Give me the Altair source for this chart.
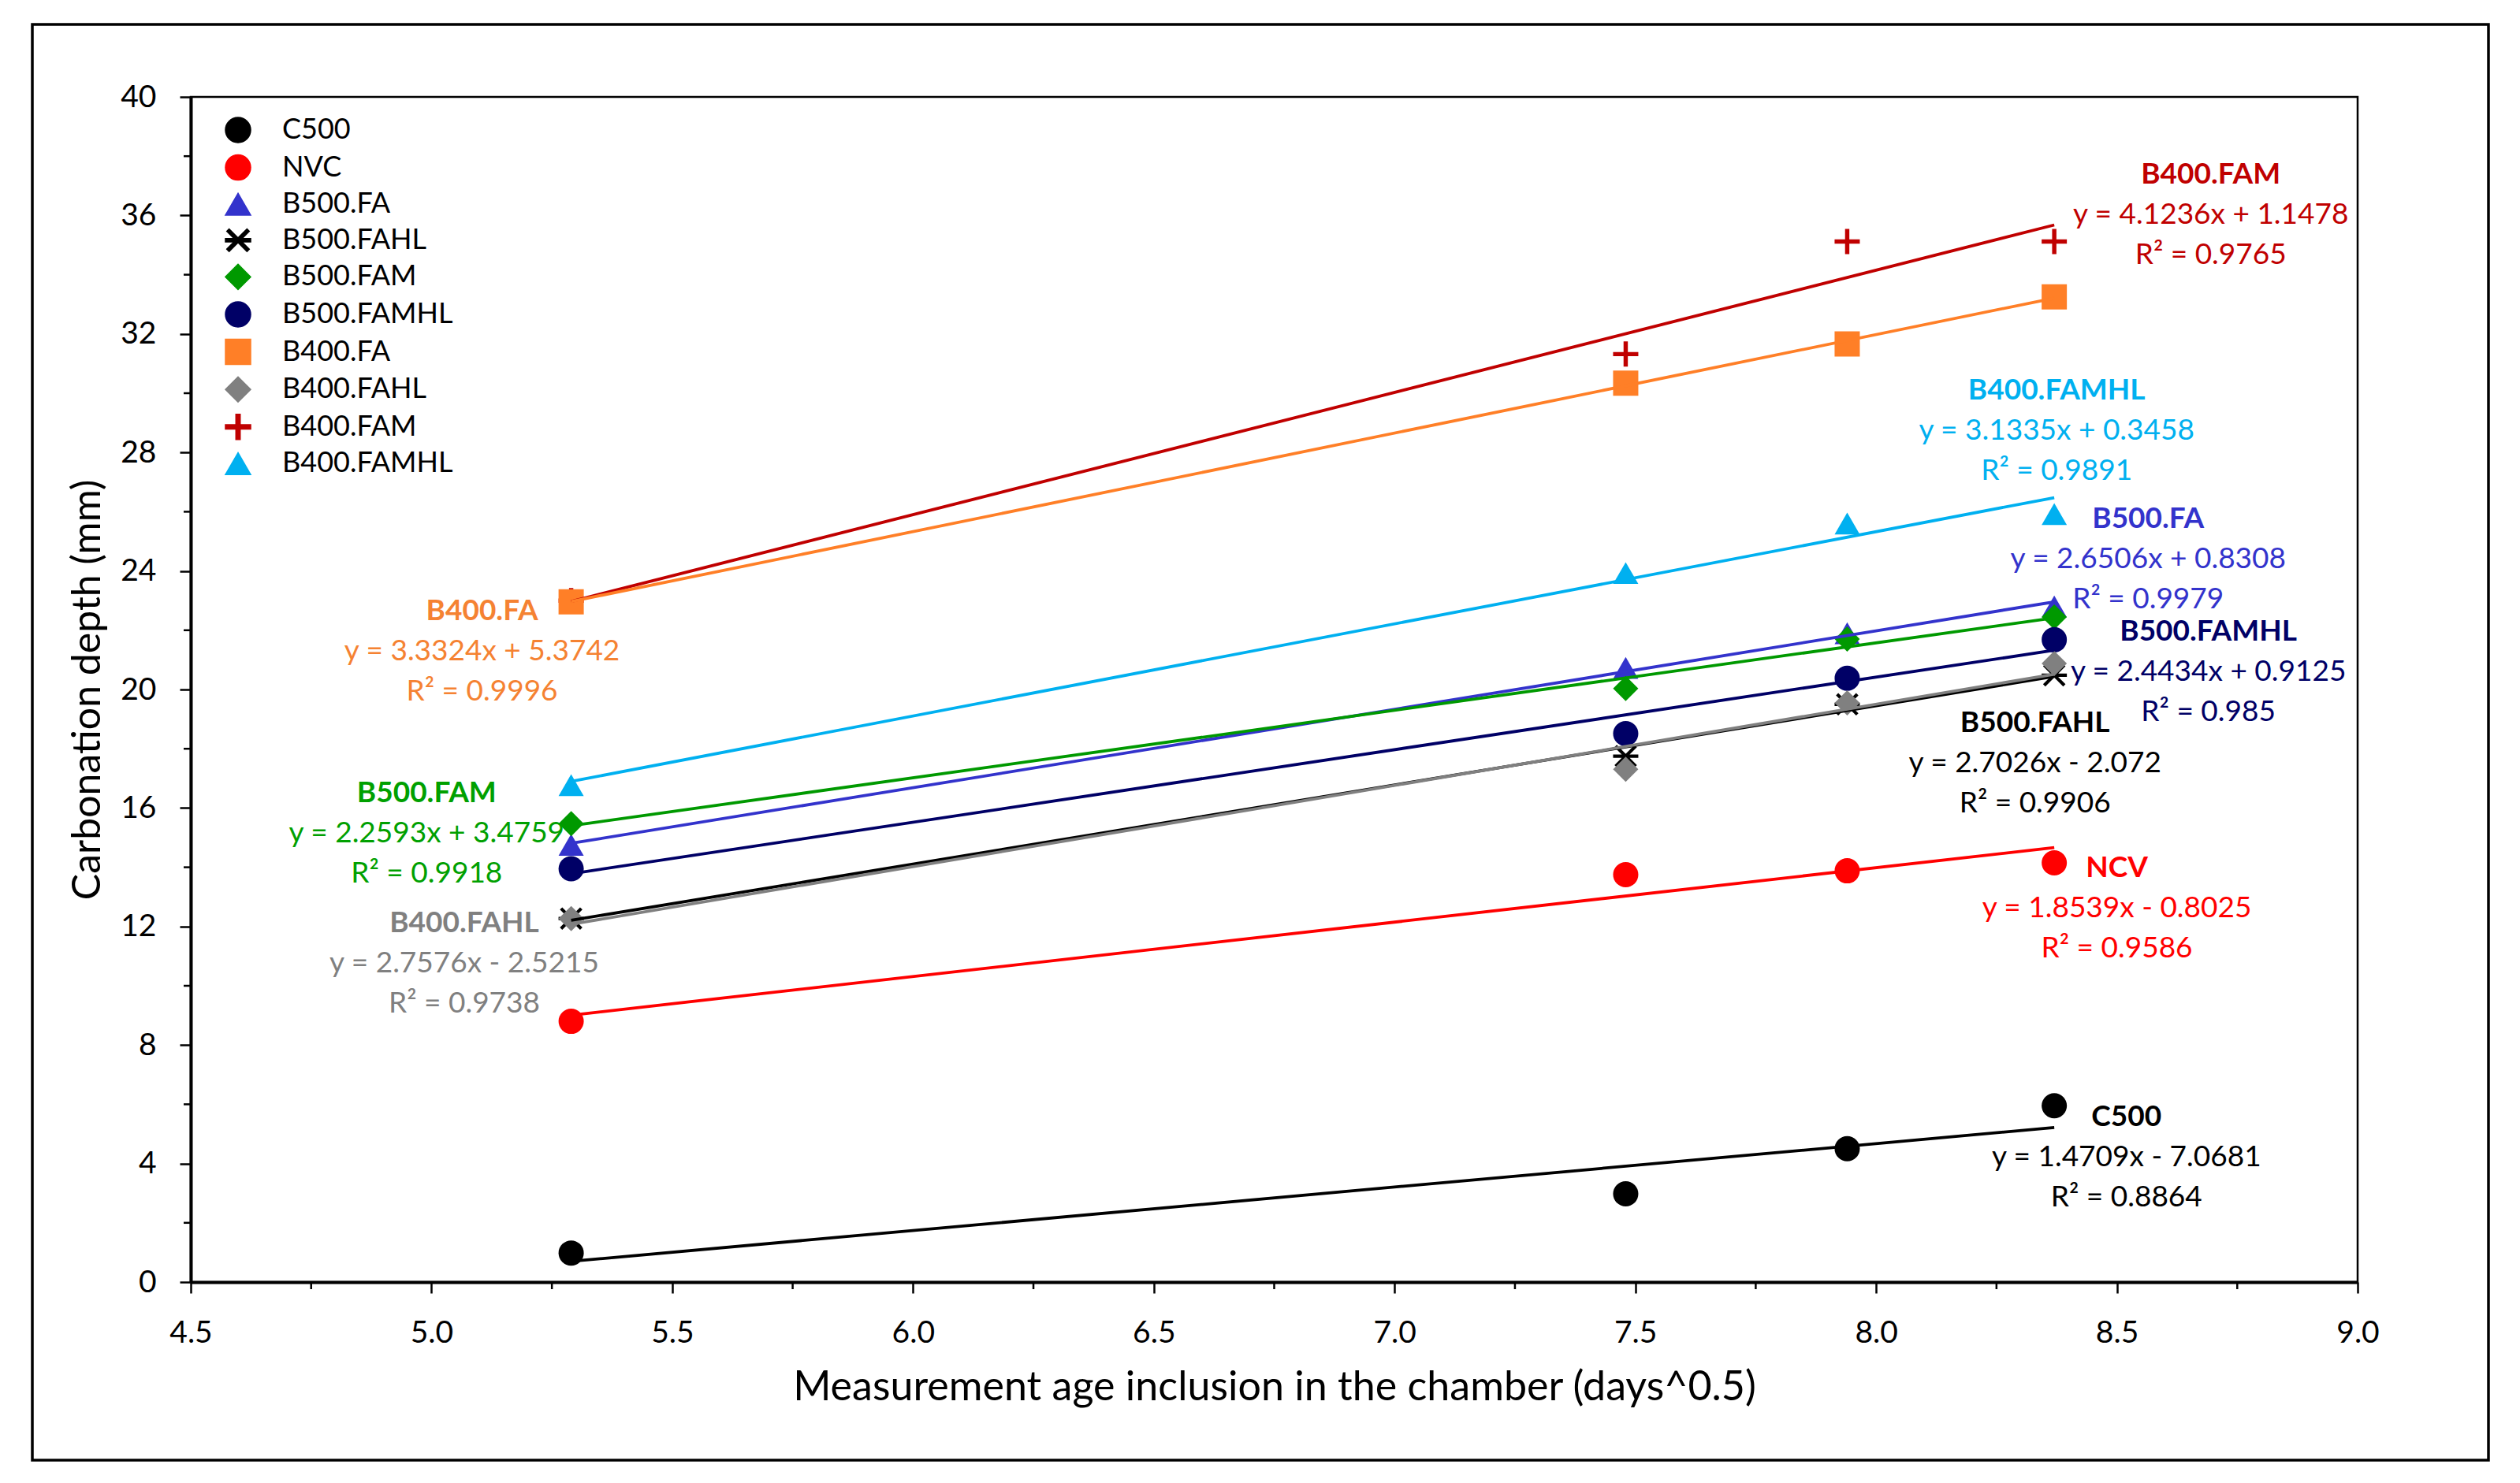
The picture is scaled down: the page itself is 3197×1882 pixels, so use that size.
import altair as alt
import pandas as pd

# ---------------- data ----------------
ages = [5.29, 7.48, 7.94, 8.37]  # sqrt(days)

series_order = ["C500", "NVC", "B500.FA", "B500.FAHL", "B500.FAM", "B500.FAMHL",
                "B400.FA", "B400.FAHL", "B400.FAM", "B400.FAMHL"]

c500 = [0.98, 2.98, 4.50, 5.95]
nvc = [8.80, 13.75, 13.88, 14.15]
b500_fa = [14.76, 20.73, 21.90, 22.80]
b500_fahl = [12.27, 17.75, 19.50, 20.48]
b500_fam = [15.47, 20.03, 21.70, 22.45]
b500_famhl = [13.95, 18.51, 20.38, 21.68]
b400_fa = [22.96, 30.34, 31.66, 33.25]
b400_fahl = [12.27, 17.31, 19.55, 20.88]
b400_fam = [23.00, 31.32, 35.12, 35.12]
b400_famhl = [16.77, 23.93, 25.60, 25.92]

values_by_series = {
    "C500": c500, "NVC": nvc, "B500.FA": b500_fa, "B500.FAHL": b500_fahl,
    "B500.FAM": b500_fam, "B500.FAMHL": b500_famhl, "B400.FA": b400_fa,
    "B400.FAHL": b400_fahl, "B400.FAM": b400_fam, "B400.FAMHL": b400_famhl,
}

# drawing order (the B400.FAM marker at the first age sits under the square)
draw_order = ["C500", "NVC", "B500.FA", "B500.FAHL", "B500.FAM", "B500.FAMHL",
              "B400.FAM", "B400.FA", "B400.FAHL", "B400.FAMHL"]

# trend-line annotations
ann_names = ["B400.FAM", "B400.FAMHL", "B500.FA", "B500.FAMHL", "B500.FAHL",
             "NCV", "C500", "B400.FA", "B500.FAM", "B400.FAHL"]
ann_eqs = ["y = 4.1236x + 1.1478", "y = 3.1335x + 0.3458", "y = 2.6506x + 0.8308",
           "y = 2.4434x + 0.9125", "y = 2.7026x - 2.072", "y = 1.8539x - 0.8025",
           "y = 1.4709x - 7.0681", "y = 3.3324x + 5.3742", "y = 2.2593x + 3.4759",
           "y = 2.7576x - 2.5215"]
ann_r2 = ["R² = 0.9765", "R² = 0.9891", "R² = 0.9979", "R² = 0.985", "R² = 0.9906",
          "R² = 0.9586", "R² = 0.8864", "R² = 0.9996", "R² = 0.9918", "R² = 0.9738"]
ann_x = [8.695, 8.375, 8.565, 8.69, 8.33, 8.50, 8.52, 5.105, 4.99, 5.068]
ann_y = [37.37, 30.08, 25.75, 21.95, 18.85, 13.95, 5.57, 22.63, 16.50, 12.10]

x_ticks = [4.5, 5.0, 5.5, 6.0, 6.5, 7.0, 7.5, 8.0, 8.5, 9.0]
x_minor = [4.75, 5.25, 5.75, 6.25, 6.75, 7.25, 7.75, 8.25, 8.75]
y_ticks = [0, 4, 8, 12, 16, 20, 24, 28, 32, 36, 40]
y_minor = [2, 6, 10, 14, 18, 22, 26, 30, 34, 38]

X_TITLE = "Measurement age inclusion in the chamber (days^0.5)"
Y_TITLE = "Carbonation depth (mm)"

# ---------------- styles ----------------
colors = ["#000000", "#FF0000", "#3333CC", "#000000", "#009900", "#000066",
          "#FF7F27", "#808080", "#C00000", "#00B0F0"]
ann_colors = ["#C00000", "#00B0F0", "#3333CC", "#000066", "#000000",
              "#FF0000", "#000000", "#F58232", "#00A000", "#808080"]

asterisk = ("M-1,-0.13L1,-0.13L1,0.13L-1,0.13Z"
            "M-0.892,-0.708L-0.708,-0.892L0.892,0.708L0.708,0.892Z"
            "M-0.892,0.708L0.708,-0.892L0.892,-0.708L-0.708,0.892Z")
plus = ("M-1,-0.17L-0.17,-0.17L-0.17,-1L0.17,-1L0.17,-0.17L1,-0.17L1,0.17"
        "L0.17,0.17L0.17,1L-0.17,1L-0.17,0.17L-1,0.17Z")
shapes = ["circle", "circle", "triangle-up", asterisk, "diamond", "circle",
          "square", "diamond", plus, "triangle-up"]
sizes = [1024, 1024, 900, 784, 784, 1024, 1024, 784, 900, 900]

W, H = 2749, 1504
FONT = "Lato"

rows = []
for s in draw_order:
    for a, v in zip(ages, values_by_series[s]):
        rows.append({"series": s, "x": a, "y": v})
df = pd.DataFrame(rows)

ann = pd.DataFrame({"name": ann_names, "eq": ann_eqs, "r2": ann_r2,
                    "ax": ann_x, "ay": ann_y, "col": ann_colors})

xs = alt.Scale(domain=[4.5, 9.0], nice=False, zero=False)
ys = alt.Scale(domain=[0, 40], nice=False, zero=False)

xaxis = alt.Axis(values=x_ticks, format=".1f", grid=False, tickSize=14, tickWidth=2.5,
                 tickColor="black", domainColor="black", domainWidth=4,
                 labelFontSize=39, labelFont=FONT, labelColor="black", labelPadding=31,
                 labelFlush=False, labelOverlap=False,
                 titleFontSize=52, titleFont=FONT, titleFontWeight="normal",
                 titleColor="black", titlePadding=24)
yaxis = alt.Axis(values=y_ticks, format="d", grid=False, tickSize=14, tickWidth=2.5,
                 tickColor="black", domainColor="black", domainWidth=4,
                 labelFontSize=39, labelFont=FONT, labelColor="black", labelPadding=30,
                 labelFlush=False, labelOverlap=False,
                 titleFontSize=50, titleFont=FONT, titleFontWeight="normal",
                 titleColor="black", titlePadding=16)


def X(field):
    return alt.X(field, scale=xs, axis=xaxis, title=X_TITLE)


def Y(field):
    return alt.Y(field, scale=ys, axis=yaxis, title=Y_TITLE)


legend = alt.Legend(orient="none", legendX=42, legendY=24, title=None,
                    labelFontSize=36, labelFont=FONT, labelColor="black",
                    labelLimit=1000, symbolSize=484, labelOffset=38,
                    rowPadding=9.6, padding=0)

frame = alt.Chart(pd.DataFrame({"f": [0]})).mark_rect(
    fill="transparent", stroke="black", strokeWidth=3.5
).encode(x=alt.value(-201), x2=alt.value(W + 166), y=alt.value(-92), y2=alt.value(H + 226))

points = alt.Chart(df).mark_point(filled=True, opacity=1).encode(
    x=X("x:Q"),
    y=Y("y:Q"),
    color=alt.Color("series:N", scale=alt.Scale(domain=series_order, range=colors),
                    legend=legend),
    shape=alt.Shape("series:N", scale=alt.Scale(domain=series_order, range=shapes),
                    legend=legend),
    size=alt.Size("series:O", scale=alt.Scale(domain=series_order, range=sizes),
                  legend=None),
)

lines = alt.Chart(df).transform_regression(
    "x", "y", groupby=["series"]
).mark_line(strokeWidth=3.8).encode(
    x=X("x:Q"),
    y=Y("y:Q"),
    stroke=alt.Stroke("series:N", scale=alt.Scale(domain=series_order, range=colors),
                      legend=None),
)

base_t = alt.Chart(ann).encode(
    x=X("ax:Q"),
    y=Y("ay:Q"),
    fill=alt.Fill("col:N", scale=None, legend=None),
)
t_name = base_t.mark_text(font=FONT, fontSize=37, fontWeight="bold",
                          align="center", baseline="middle").encode(text="name:N")
t_eq = base_t.mark_text(font=FONT, fontSize=37, align="center", baseline="middle",
                        dy=51).encode(text="eq:N")
t_r2 = base_t.mark_text(font=FONT, fontSize=37, align="center", baseline="middle",
                        dy=102).encode(text="r2:N")

xminor_rules = alt.Chart(pd.DataFrame({"v": x_minor})).mark_rule(
    color="black", strokeWidth=2.5
).encode(x=X("v:Q"), y=alt.value(H), y2=alt.value(H + 9))

yminor_rules = alt.Chart(pd.DataFrame({"v": y_minor})).mark_rule(
    color="black", strokeWidth=2.5
).encode(y=Y("v:Q"), x=alt.value(-9), x2=alt.value(0))

chart = alt.layer(
    frame, points, lines, t_name, t_eq, t_r2, xminor_rules, yminor_rules
).properties(
    width=W, height=H,
    padding={"left": 31, "top": 21, "right": 10, "bottom": 10},
    background="white",
).configure(font=FONT).configure_view(stroke="black", strokeWidth=2.5)

chart.save("out.html", embed_options={"renderer": "svg", "actions": False})
